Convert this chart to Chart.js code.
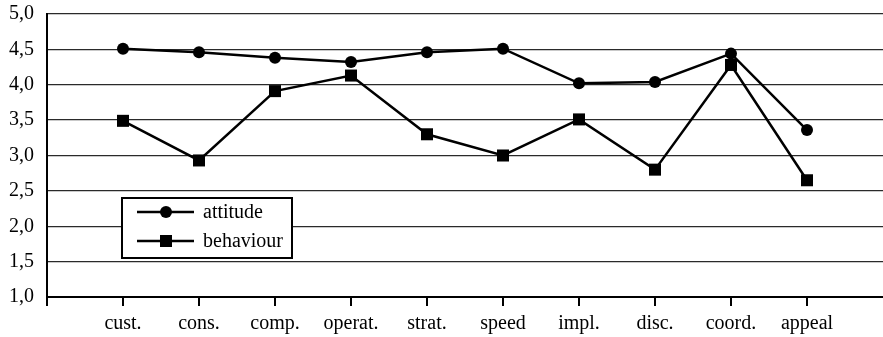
<!DOCTYPE html>
<html lang="en">
<head>
    <meta charset="UTF-8">
    <title>Attitude vs behaviour</title>
    <script src="https://cdn.jsdelivr.net/npm/chart.js"></script>
    <style>
        body {
            margin: 0;
            background-color: #fff;
        }
        canvas {
            display: block;
        }
    </style>
</head>
<body>
    <canvas id="scoreChart" width="883" height="337"></canvas>

    <script>
        const categories = ['cust.', 'cons.', 'comp.', 'operat.', 'strat.', 'speed', 'impl.', 'disc.', 'coord.', 'appeal'];
        const attitude = [4.51, 4.46, 4.38, 4.32, 4.46, 4.51, 4.02, 4.04, 4.44, 3.36];
        const behaviour = [3.49, 2.93, 3.91, 4.13, 3.30, 3.00, 3.51, 2.80, 4.28, 2.65];
        const yTicks = [1.0, 1.5, 2.0, 2.5, 3.0, 3.5, 4.0, 4.5, 5.0];

        Chart.defaults.font.family = "'Liberation Serif', 'Times New Roman', serif";
        Chart.defaults.font.size = 20;
        Chart.defaults.color = '#000';

        // categories sit at x = 1..10, with one empty slot on each side
        const toPoints = vals => vals.map((v, i) => ({ x: i + 1, y: v }));

        // no automatic padding for overhanging labels, the layout padding is enough
        const noAutoPadding = scale => {
            scale.paddingTop = scale.paddingBottom = 0;
            scale.paddingLeft = scale.paddingRight = 0;
        };

        // boxed legend drawn inside the plot area
        const boxLegend = {
            id: 'boxLegend',
            afterDraw(chart) {
                const ctx = chart.ctx;
                const box = { x: 122, y: 198, w: 170, h: 60 };
                ctx.save();
                ctx.fillStyle = '#fff';
                ctx.fillRect(box.x, box.y, box.w, box.h);
                ctx.strokeStyle = '#000';
                ctx.lineWidth = 2;
                ctx.strokeRect(box.x, box.y, box.w, box.h);
                ctx.font = "20px 'Liberation Serif', serif";
                ctx.textBaseline = 'middle';
                chart.data.datasets.forEach((ds, i) => {
                    const y = 212 + i * 29;
                    ctx.strokeStyle = ds.borderColor;
                    ctx.lineWidth = ds.borderWidth;
                    ctx.beginPath();
                    ctx.moveTo(137, y);
                    ctx.lineTo(194, y);
                    ctx.stroke();
                    ctx.fillStyle = ds.pointBackgroundColor;
                    Chart.helpers.drawPoint(ctx, {
                        pointStyle: ds.pointStyle,
                        radius: ds.pointRadius,
                        rotation: 0,
                        borderWidth: 0
                    }, 166, y);
                    ctx.fillStyle = '#000';
                    ctx.fillText(ds.label, 203, y + 1);
                });
                ctx.restore();
            }
        };

        new Chart(document.getElementById('scoreChart'), {
            type: 'line',
            data: {
                datasets: [
                    {
                        label: 'attitude',
                        data: toPoints(attitude),
                        borderColor: '#000',
                        borderWidth: 2.5,
                        pointStyle: 'circle',
                        pointRadius: 6,
                        pointBackgroundColor: '#000',
                        pointBorderWidth: 0,
                        tension: 0
                    },
                    {
                        label: 'behaviour',
                        data: toPoints(behaviour),
                        borderColor: '#000',
                        borderWidth: 2.5,
                        pointStyle: 'rect',
                        pointRadius: 8.5,
                        pointBackgroundColor: '#000',
                        pointBorderWidth: 0,
                        tension: 0
                    }
                ]
            },
            options: {
                responsive: false,
                animation: false,
                devicePixelRatio: 1,
                layout: {
                    autoPadding: false,
                    padding: { top: 14, right: 0, bottom: 0, left: 0 }
                },
                plugins: {
                    legend: { display: false },
                    tooltip: { enabled: false }
                },
                scales: {
                    x: {
                        type: 'linear',
                        min: 0,
                        max: categories.length + 1,
                        afterBuildTicks(scale) {
                            scale.ticks = [0, ...categories.map((c, i) => i + 1)].map(v => ({ value: v }));
                        },
                        afterFit(scale) {
                            scale.height = 40;
                            noAutoPadding(scale);
                        },
                        ticks: {
                            autoSkip: false,
                            maxRotation: 0,
                            padding: 6,
                            callback: v => categories[v - 1] || ''
                        },
                        grid: {
                            drawOnChartArea: false,
                            drawTicks: true,
                            tickLength: 9,
                            color: '#000',
                            lineWidth: 2
                        },
                        border: { display: true, color: '#000', width: 2 }
                    },
                    y: {
                        min: yTicks[0],
                        max: yTicks[yTicks.length - 1],
                        afterBuildTicks(scale) {
                            scale.ticks = yTicks.map(v => ({ value: v }));
                        },
                        afterFit(scale) {
                            scale.width = 47;
                            noAutoPadding(scale);
                        },
                        ticks: {
                            padding: 13,
                            callback: v => v.toFixed(1).replace('.', ',')
                        },
                        grid: {
                            drawTicks: false,
                            color: '#2a2a2a',
                            lineWidth: 1.3
                        },
                        border: { display: true, color: '#000', width: 2 }
                    }
                }
            },
            plugins: [boxLegend]
        });
    </script>
</body>
</html>
